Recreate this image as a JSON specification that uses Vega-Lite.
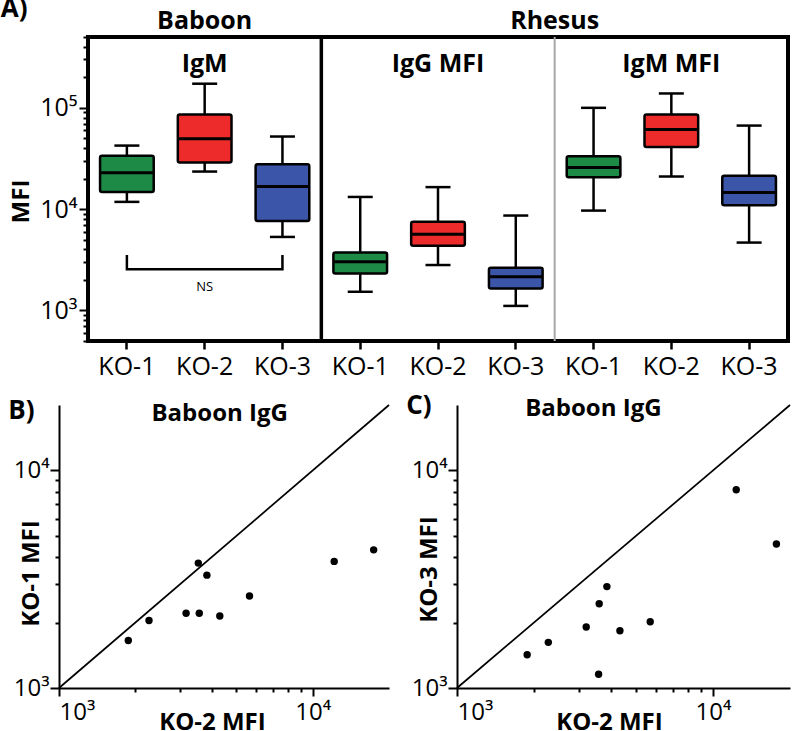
{
 "$schema": "https://vega.github.io/schema/vega-lite/v6.json",
 "padding": {"left": -2, "top": -7, "right": 2, "bottom": 0},
 "config": {
  "font": "Open Sans",
  "view": {"stroke": null},
  "axis": {"labelFont": "Open Sans", "titleFont": "Open Sans", "labelColor": "black", "titleColor": "black", "tickColor": "black", "domainColor": "black", "grid": false, "labelFontSize": 24, "titleFontSize": 24, "titleFontWeight": "bold"},
  "title": {"font": "Open Sans", "fontSize": 26, "fontWeight": "bold", "color": "black"},
  "text": {"font": "Open Sans"}
 },
 "datasets": {
  "boxes": [
   {"slot": "b1", "ko": "KO-1", "min": 11800, "q1": 14800, "med": 22900, "q3": 33700, "max": 42400},
   {"slot": "b2", "ko": "KO-2", "min": 23500, "q1": 28900, "med": 49600, "q3": 85900, "max": 173000},
   {"slot": "b3", "ko": "KO-3", "min": 5320, "q1": 7650, "med": 16700, "q3": 27700, "max": 52100},
   {"slot": "g1", "ko": "KO-1", "min": 1530, "q1": 2320, "med": 3030, "q3": 3730, "max": 13200},
   {"slot": "g2", "ko": "KO-2", "min": 2810, "q1": 4360, "med": 5650, "q3": 7530, "max": 16500},
   {"slot": "g3", "ko": "KO-3", "min": 1110, "q1": 1650, "med": 2150, "q3": 2640, "max": 8650},
   {"slot": "m1", "ko": "KO-1", "min": 9680, "q1": 20600, "med": 25800, "q3": 33200, "max": 100000},
   {"slot": "m2", "ko": "KO-2", "min": 21000, "q1": 41100, "med": 61000, "q3": 85900, "max": 138600},
   {"slot": "m3", "ko": "KO-3", "min": 4680, "q1": 10900, "med": 14600, "q3": 21400, "max": 66800}
  ],
  "alab": [
   {"slot": "b2", "text": "Baboon", "v": 720000},
   {"slot": "b2", "text": "IgM", "v": 270000},
   {"slot": "g2", "text": "IgG MFI", "v": 270000},
   {"slot": "m2", "text": "IgM MFI", "v": 270000}
  ],
  "rhesus": [{"slot": "g3", "text": "Rhesus", "v": 720000}],
  "divBlack": [{"slot": "g1"}],
  "divGray": [{"slot": "m1"}],
  "bracket": [
   {"slot": "b1", "v": 3520, "i": 1},
   {"slot": "b1", "v": 2560, "i": 2},
   {"slot": "b3", "v": 2560, "i": 3},
   {"slot": "b3", "v": 3520, "i": 4}
  ],
  "ns": [{"slot": "b2", "text": "NS", "v": 1700}],
  "diag": [{"x": 1000, "y": 1000}, {"x": 20000, "y": 20000}],
  "ptsB": [
   {"ko2": 1876, "ko1": 1653}, {"ko2": 2264, "ko1": 2042}, {"ko2": 3170, "ko1": 2207},
   {"ko2": 3573, "ko1": 2207}, {"ko2": 3541, "ko1": 3751}, {"ko2": 3829, "ko1": 3303},
   {"ko2": 4305, "ko1": 2142}, {"ko2": 5637, "ko1": 2648}, {"ko2": 12160, "ko1": 3819},
   {"ko2": 17400, "ko1": 4316}
  ],
  "ptsC": [
   {"ko2": 1880, "ko3": 1422}, {"ko2": 2274, "ko3": 1621}, {"ko2": 3198, "ko3": 1906},
   {"ko2": 3594, "ko3": 2439}, {"ko2": 3851, "ko3": 2925}, {"ko2": 3575, "ko3": 1156},
   {"ko2": 4330, "ko3": 1833}, {"ko2": 5688, "ko3": 2017}, {"ko2": 12330, "ko3": 8150},
   {"ko2": 17700, "ko3": 4595}
  ],
  "titleB": [{"x": 4300, "y": 18100, "text": "Baboon IgG"}],
  "titleC": [{"x": 3410, "y": 19100, "text": "Baboon IgG"}]
 },
 "spacing": 12,
 "vconcat": [
  {
   "width": 700,
   "height": 304,
   "view": {"stroke": "black", "strokeWidth": 4},
   "title": {"text": "A)", "anchor": "start", "frame": "bounds", "baseline": "middle", "offset": -26, "dx": -9},
   "layer": [
    {
     "data": {"name": "divBlack"},
     "mark": {"type": "rule", "color": "black", "strokeWidth": 3.5},
     "encoding": {"x": {"field": "slot", "type": "nominal", "title": null, "bandPosition": 0, "scale": {"type": "band", "domain": ["b1","b2","b3","g1","g2","g3","m1","m2","m3"], "paddingInner": 0, "paddingOuter": 0}}}
    },
    {
     "data": {"name": "divGray"},
     "mark": {"type": "rule", "color": "#a8a8a8", "strokeWidth": 2},
     "encoding": {"x": {"field": "slot", "type": "nominal", "title": null, "bandPosition": 0, "scale": {"type": "band", "domain": ["b1","b2","b3","g1","g2","g3","m1","m2","m3"], "paddingInner": 0, "paddingOuter": 0}}}
    },
    {
     "data": {"name": "boxes"},
     "mark": {"type": "rule", "color": "black", "strokeWidth": 2.5},
     "encoding": {
      "x": {"field": "slot", "type": "nominal", "title": null, "scale": {"type": "band", "domain": ["b1","b2","b3","g1","g2","g3","m1","m2","m3"], "paddingInner": 0, "paddingOuter": 0},
            "axis": {"title": null, "domain": false, "labelExpr": "'KO-' + slice(datum.value, 1)", "bandPosition": 0.5, "labelAlign": "center", "labelFontSize": 25, "tickSize": 8, "tickWidth": 2.5, "labelPadding": 17, "labelAngle": 0}},
      "y": {"field": "min", "type": "quantitative", "title": "MFI", "scale": {"type": "log", "domain": [500, 500000], "nice": false},
            "axis": {"title": "MFI", "titlePadding": 6, "titleY": 164, "domain": false,
                     "values": [500,600,700,800,900,1000,2000,3000,4000,5000,6000,7000,8000,9000,10000,20000,30000,40000,50000,60000,70000,80000,90000,100000,200000,300000,400000,500000],
                     "labelExpr": "datum.value == 1000 ? '10³' : datum.value == 10000 ? '10⁴' : datum.value == 100000 ? '10⁵' : ''",
                     "labelOverlap": false, "labelFontSize": 25,
                     "tickSize": {"condition": {"test": "datum.value == 1000 || datum.value == 10000 || datum.value == 100000", "value": 9}, "value": 5},
                     "tickWidth": 2, "labelPadding": 2}},
      "y2": {"field": "max"}
     }
    },
    {
     "data": {"name": "boxes"},
     "mark": {"type": "tick", "color": "black", "size": 25, "thickness": 2.5, "opacity": 1},
     "encoding": {
      "x": {"field": "slot", "type": "nominal", "title": null, "scale": {"type": "band", "domain": ["b1","b2","b3","g1","g2","g3","m1","m2","m3"], "paddingInner": 0, "paddingOuter": 0}},
      "y": {"field": "min", "type": "quantitative", "title": "MFI", "scale": {"type": "log", "domain": [500, 500000], "nice": false}}
     }
    },
    {
     "data": {"name": "boxes"},
     "mark": {"type": "tick", "color": "black", "size": 25, "thickness": 2.5, "opacity": 1},
     "encoding": {
      "x": {"field": "slot", "type": "nominal", "title": null, "scale": {"type": "band", "domain": ["b1","b2","b3","g1","g2","g3","m1","m2","m3"], "paddingInner": 0, "paddingOuter": 0}},
      "y": {"field": "max", "type": "quantitative", "title": "MFI", "scale": {"type": "log", "domain": [500, 500000], "nice": false}}
     }
    },
    {
     "data": {"name": "boxes"},
     "mark": {"type": "bar", "stroke": "black", "strokeWidth": 2.5, "width": {"band": 0.69}, "cornerRadius": 2, "opacity": 1},
     "encoding": {
      "x": {"field": "slot", "type": "nominal", "title": null, "scale": {"type": "band", "domain": ["b1","b2","b3","g1","g2","g3","m1","m2","m3"], "paddingInner": 0, "paddingOuter": 0}},
      "y": {"field": "q1", "type": "quantitative", "title": "MFI", "scale": {"type": "log", "domain": [500, 500000], "nice": false}},
      "y2": {"field": "q3"},
      "fill": {"field": "ko", "type": "nominal", "scale": {"domain": ["KO-1", "KO-2", "KO-3"], "range": ["#1d8a46", "#ee2b2b", "#3b55a9"]}, "legend": null}
     }
    },
    {
     "data": {"name": "boxes"},
     "mark": {"type": "tick", "color": "black", "size": 53, "thickness": 3, "opacity": 1},
     "encoding": {
      "x": {"field": "slot", "type": "nominal", "title": null, "scale": {"type": "band", "domain": ["b1","b2","b3","g1","g2","g3","m1","m2","m3"], "paddingInner": 0, "paddingOuter": 0}},
      "y": {"field": "med", "type": "quantitative", "title": "MFI", "scale": {"type": "log", "domain": [500, 500000], "nice": false}}
     }
    },
    {
     "data": {"name": "bracket"},
     "mark": {"type": "line", "color": "black", "strokeWidth": 2.5, "strokeJoin": "miter"},
     "encoding": {
      "x": {"field": "slot", "type": "nominal", "title": null, "scale": {"type": "band", "domain": ["b1","b2","b3","g1","g2","g3","m1","m2","m3"], "paddingInner": 0, "paddingOuter": 0}},
      "y": {"field": "v", "type": "quantitative", "title": "MFI", "scale": {"type": "log", "domain": [500, 500000], "nice": false}},
      "order": {"field": "i", "type": "quantitative"}
     }
    },
    {
     "data": {"name": "ns"},
     "mark": {"type": "text", "fontSize": 13, "fill": "black", "baseline": "middle"},
     "encoding": {
      "x": {"field": "slot", "type": "nominal", "title": null, "scale": {"type": "band", "domain": ["b1","b2","b3","g1","g2","g3","m1","m2","m3"], "paddingInner": 0, "paddingOuter": 0}},
      "y": {"field": "v", "type": "quantitative", "title": "MFI", "scale": {"type": "log", "domain": [500, 500000], "nice": false}},
      "text": {"field": "text"}
     }
    },
    {
     "data": {"name": "alab"},
     "mark": {"type": "text", "fontSize": 25, "fontWeight": "bold", "fill": "black", "baseline": "middle"},
     "encoding": {
      "x": {"field": "slot", "type": "nominal", "title": null, "scale": {"type": "band", "domain": ["b1","b2","b3","g1","g2","g3","m1","m2","m3"], "paddingInner": 0, "paddingOuter": 0}},
      "y": {"field": "v", "type": "quantitative", "title": "MFI", "scale": {"type": "log", "domain": [500, 500000], "nice": false}},
      "text": {"field": "text"}
     }
    },
    {
     "data": {"name": "rhesus"},
     "mark": {"type": "text", "fontSize": 25, "fontWeight": "bold", "fill": "black", "baseline": "middle"},
     "encoding": {
      "x": {"field": "slot", "type": "nominal", "title": null, "bandPosition": 1, "scale": {"type": "band", "domain": ["b1","b2","b3","g1","g2","g3","m1","m2","m3"], "paddingInner": 0, "paddingOuter": 0}},
      "y": {"field": "v", "type": "quantitative", "title": "MFI", "scale": {"type": "log", "domain": [500, 500000], "nice": false}},
      "text": {"field": "text"}
     }
    }
   ]
  },
  {
   "spacing": -12,
   "hconcat": [
    {
     "width": 301,
     "height": 283,
     "title": {"text": "B)", "anchor": "start", "frame": "bounds", "baseline": "middle", "offset": -35, "dx": -5},
     "layer": [
      {
       "data": {"name": "diag"},
       "mark": {"type": "line", "color": "black", "strokeWidth": 1.7},
       "encoding": {
        "x": {"field": "x", "type": "quantitative", "title": "KO-2 MFI", "scale": {"type": "log", "domain": [1000, 20000], "range": [-29, 301], "nice": false},
              "axis": {"title": "KO-2 MFI", "values": [1000,2000,3000,4000,5000,6000,7000,8000,9000,10000],
                       "labelExpr": "datum.value == 1000 ? '10³' : datum.value == 10000 ? '10⁴' : ''", "labelOverlap": false,
                       "tickSize": {"condition": {"test": "datum.value == 1000 || datum.value == 10000", "value": 8}, "value": 4},
                       "tickWidth": 2, "domainWidth": 2, "labelPadding": 4, "titleX": 124, "titleY": 22, "titleBaseline": "top"}},
        "y": {"field": "y", "type": "quantitative", "title": "KO-1 MFI", "scale": {"type": "log", "domain": [1000, 20000], "nice": false},
              "axis": {"title": "KO-1 MFI", "offset": 29, "values": [1000,2000,3000,4000,5000,6000,7000,8000,9000,10000],
                       "labelExpr": "datum.value == 1000 ? '10³' : datum.value == 10000 ? '10⁴' : ''", "labelOverlap": false,
                       "tickSize": {"condition": {"test": "datum.value == 1000 || datum.value == 10000", "value": 9}, "value": 4},
                       "tickWidth": 2, "domainWidth": 2, "labelPadding": 1, "titlePadding": -30, "titleY": 168}}
       }
      },
      {
       "data": {"name": "ptsB"},
       "mark": {"type": "circle", "color": "black", "size": 55, "opacity": 1},
       "encoding": {
        "x": {"field": "ko2", "type": "quantitative", "title": "KO-2 MFI", "scale": {"type": "log", "domain": [1000, 20000], "range": [-29, 301], "nice": false}},
        "y": {"field": "ko1", "type": "quantitative", "title": "KO-1 MFI", "scale": {"type": "log", "domain": [1000, 20000], "nice": false}}
       }
      },
      {
       "data": {"name": "titleB"},
       "mark": {"type": "text", "fontSize": 24, "fontWeight": "bold", "fill": "black", "baseline": "middle"},
       "encoding": {
        "x": {"field": "x", "type": "quantitative", "title": "KO-2 MFI", "scale": {"type": "log", "domain": [1000, 20000], "range": [-29, 301], "nice": false}},
        "y": {"field": "y", "type": "quantitative", "title": "KO-1 MFI", "scale": {"type": "log", "domain": [1000, 20000], "nice": false}},
        "text": {"field": "text"}
       }
      }
     ]
    },
    {
     "width": 333,
     "height": 283,
     "title": {"text": "C)", "anchor": "start", "frame": "bounds", "baseline": "middle", "offset": -35, "dx": -5},
     "layer": [
      {
       "data": {"name": "diag"},
       "mark": {"type": "line", "color": "black", "strokeWidth": 1.7},
       "encoding": {
        "x": {"field": "x", "type": "quantitative", "title": "KO-2 MFI", "scale": {"type": "log", "domain": [1000, 20000], "nice": false},
              "axis": {"title": "KO-2 MFI", "values": [1000,2000,3000,4000,5000,6000,7000,8000,9000,10000],
                       "labelExpr": "datum.value == 1000 ? '10³' : datum.value == 10000 ? '10⁴' : ''", "labelOverlap": false,
                       "tickSize": {"condition": {"test": "datum.value == 1000 || datum.value == 10000", "value": 8}, "value": 4},
                       "tickWidth": 2, "domainWidth": 2, "labelPadding": 4, "titleX": 152, "titleY": 22, "titleBaseline": "top"}},
        "y": {"field": "y", "type": "quantitative", "title": "KO-3 MFI", "scale": {"type": "log", "domain": [1000, 20000], "nice": false},
              "axis": {"title": "KO-3 MFI", "values": [1000,2000,3000,4000,5000,6000,7000,8000,9000,10000],
                       "labelExpr": "datum.value == 1000 ? '10³' : datum.value == 10000 ? '10⁴' : ''", "labelOverlap": false,
                       "tickSize": {"condition": {"test": "datum.value == 1000 || datum.value == 10000", "value": 9}, "value": 4},
                       "tickWidth": 2, "domainWidth": 2, "labelPadding": 1, "titlePadding": -30, "titleY": 164}}
       }
      },
      {
       "data": {"name": "ptsC"},
       "mark": {"type": "circle", "color": "black", "size": 55, "opacity": 1},
       "encoding": {
        "x": {"field": "ko2", "type": "quantitative", "title": "KO-2 MFI", "scale": {"type": "log", "domain": [1000, 20000], "nice": false}},
        "y": {"field": "ko3", "type": "quantitative", "title": "KO-3 MFI", "scale": {"type": "log", "domain": [1000, 20000], "nice": false}}
       }
      },
      {
       "data": {"name": "titleC"},
       "mark": {"type": "text", "fontSize": 24, "fontWeight": "bold", "fill": "black", "baseline": "middle"},
       "encoding": {
        "x": {"field": "x", "type": "quantitative", "title": "KO-2 MFI", "scale": {"type": "log", "domain": [1000, 20000], "nice": false}},
        "y": {"field": "y", "type": "quantitative", "title": "KO-3 MFI", "scale": {"type": "log", "domain": [1000, 20000], "nice": false}},
        "text": {"field": "text"}
       }
      }
     ]
    }
   ]
  }
 ]
}
